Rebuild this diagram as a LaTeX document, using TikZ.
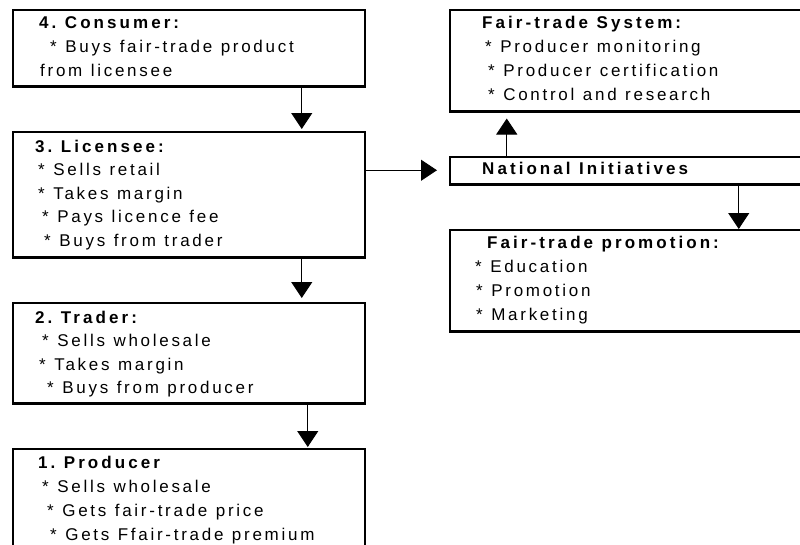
\documentclass[tikz,border=0pt]{standalone}
\usepackage{fontspec}
\newfontfamily\chartfont[LetterSpace=16, BoldFeatures={LetterSpace=18}]{Liberation Sans}
\newcommand{\chartsize}[1]{\chartfont\fontsize{17}{#1}\selectfont}
\usetikzlibrary{arrows.meta}
\tikzset{
  stagebox/.style={draw, line width=1.5pt, anchor=north west, inner sep=0pt},
  stagetext/.style={anchor=base west, inner sep=0pt, text width=340pt, align=left,
    font=\chartsize{24}},
  flow/.style={-{Triangle[width=21pt,length=16pt]}, line width=0.9pt},
}
% indent a line, with wide word gaps
\newcommand{\ind}[1]{\spaceskip 8.5pt\relax\hspace*{#1pt}}

\begin{document}
\begin{tikzpicture}[x=1pt, y=-1pt]
\useasboundingbox (0,0) rectangle (800,544);

% boxes
\node[stagebox, minimum width=352pt, minimum height=76pt] (consumer) at (12,9) {};
\node[stagebox, minimum width=352pt, minimum height=125pt] (licensee) at (12,131) {};
\node[stagebox, minimum width=352pt, minimum height=100pt] (trader) at (12,302) {};
\node[stagebox, minimum width=352pt, minimum height=120pt] (producer) at (12,448) {};
\node[stagebox, minimum width=370pt, minimum height=101pt] (system) at (449,9) {};
\node[stagebox, minimum width=370pt, minimum height=27pt] (national) at (449,156) {};
\node[stagebox, minimum width=370pt, minimum height=101pt] (promotion) at (449,229) {};

\foreach \b in {consumer,licensee,trader,system,national,promotion}
  \draw[line width=3pt] (\b.south west) -- (\b.south east);

% texts
\node[stagetext] (consumertext) at (12,28)
  {\ind{27}\textbf{4. Consumer:}\\
   \ind{38}* Buys fair-trade product\\
   \ind{28}from licensee};
\node[stagetext, font=\chartsize{23.5}] (licenseetext) at (12,152)
  {\ind{23}\textbf{3. Licensee:}\\
   \ind{26}* Sells retail\\
   \ind{26}* Takes margin\\
   \ind{30}* Pays licence fee\\
   \ind{32}* Buys from trader};
\node[stagetext, font=\chartsize{23.5}] (tradertext) at (12,323)
  {\ind{23}\textbf{2. Trader:}\\
   \ind{30}* Sells wholesale\\
   \ind{27}* Takes margin\\
   \ind{35}* Buys from producer};
\node[stagetext] (producertext) at (12,468)
  {\ind{26}\textbf{1. Producer}\\
   \ind{30}* Sells wholesale\\
   \ind{35}* Gets fair-trade price\\
   \ind{38}* Gets Ffair-trade premium};
\node[stagetext] (systemtext) at (449,28)
  {\ind{33}\textbf{Fair-trade System:}\\
   \ind{36}* Producer monitoring\\
   \ind{39}* Producer certification\\
   \ind{39}* Control and research};
\node[stagetext] (nationaltext) at (449,174)
  {\ind{33}\textbf{National Initiatives}};
\node[stagetext] (promotiontext) at (449,248)
  {\ind{38}\textbf{Fair-trade promotion:}\\
   \ind{26}* Education\\
   \ind{27}* Promotion\\
   \ind{27}* Marketing};

% connectors
\draw[flow, shorten >=2pt] ([xshift=113pt]consumer.south) -- ([xshift=113pt]licensee.north);
\draw[flow, shorten >=4pt] ([xshift=113pt]licensee.south) -- ([xshift=113pt]trader.north);
\draw[flow, shorten >=1pt] ([xshift=119pt]trader.south) -- ([xshift=119pt]producer.north);
\draw[flow, shorten >=12pt] (licensee.east |- national.west) -- (national.west);
\draw[flow, shorten >=7pt] ([xshift=-128pt]national.north) -- ([xshift=-128pt]system.south);
\draw[flow] ([xshift=104pt]national.south) -- ([xshift=104pt]promotion.north);

\end{tikzpicture}
\end{document}
